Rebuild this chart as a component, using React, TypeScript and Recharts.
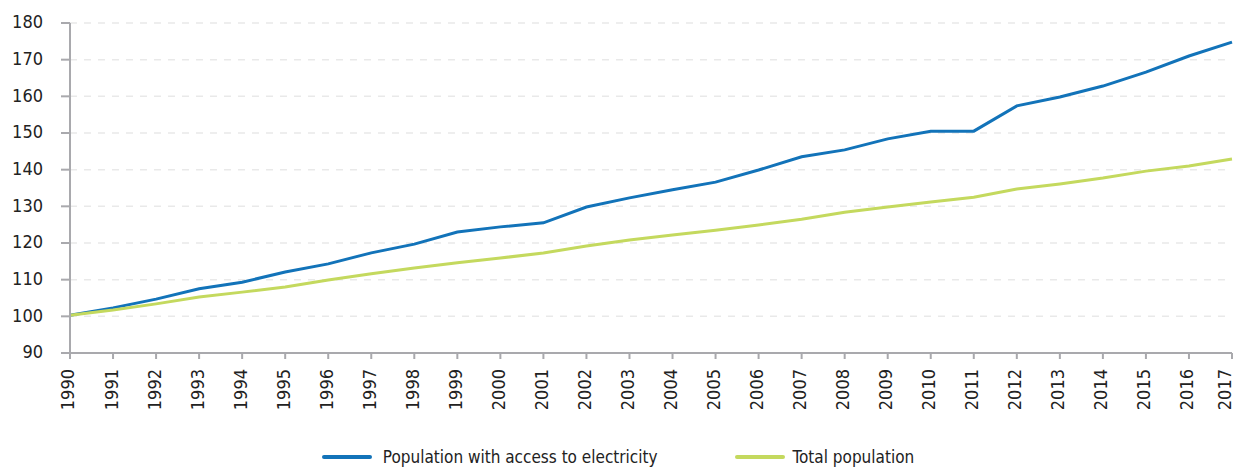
import React from 'react';
import { LineChart, Line, XAxis, YAxis, CartesianGrid, Legend } from 'recharts';

const years = [
    '1990', '1991', '1992', '1993', '1994', '1995', '1996', '1997', '1998', '1999',
    '2000', '2001', '2002', '2003', '2004', '2005', '2006', '2007', '2008', '2009',
    '2010', '2011', '2012', '2013', '2014', '2015', '2016', '2017',
];

const withElectricity = [
    100.3, 102.3, 104.7, 107.5, 109.3, 112.1, 114.3, 117.3, 119.7, 123.0,
    124.4, 125.5, 129.8, 132.3, 134.5, 136.6, 139.9, 143.5, 145.4, 148.4,
    150.5, 150.5, 157.4, 159.8, 162.8, 166.6, 171.0, 174.8,
];

const totalPopulation = [
    100.3, 101.7, 103.4, 105.3, 106.6, 108.0, 109.9, 111.6, 113.2, 114.6,
    115.9, 117.3, 119.2, 120.8, 122.2, 123.5, 124.9, 126.5, 128.4, 129.8,
    131.2, 132.5, 134.7, 136.1, 137.7, 139.6, 141.0, 142.9,
];

const yTicks = [90, 100, 110, 120, 130, 140, 150, 160, 170, 180];

const data = years.map((year, i) => ({
    year,
    electricity: withElectricity[i],
    total: totalPopulation[i],
}));

const FONT = "'DejaVu Sans Condensed', 'DejaVu Sans', sans-serif";
const BLUE = '#1273b9';
const GREEN = '#c4d95e';
const AXIS = '#a9a9ad';

// rotated year labels, reading bottom to top
const YearTick = (props: any) => {
    const { x, y, payload } = props;
    const tx = Math.min(x - 2, 1225); // keep the last label inside the page
    const ty = y + 10;
    return (
        <text
            x={tx}
            y={ty}
            dy='0.36em'
            textAnchor='end'
            transform={`rotate(-90 ${tx} ${ty})`}
            fill='#222'
            fontSize={18}
            fontFamily={FONT}
        >
            {payload.value}
        </text>
    );
};

const renderLegend = (props: any) => {
    const items = props.payload || [];
    return (
        <div
            style={{
                display: 'flex',
                justifyContent: 'center',
                marginTop: 6,
                paddingLeft: 4,
                lineHeight: '20px',
                fontFamily: FONT,
                fontSize: 17,
                color: '#222',
            }}
        >
            {items.map((item: any, i: number) => (
                <div key={i} style={{ display: 'flex', alignItems: 'center', marginLeft: i === 0 ? 0 : 77 }}>
                    <span
                        style={{
                            display: 'inline-block',
                            width: 50,
                            height: 4,
                            borderRadius: 2,
                            background: item.color,
                            marginRight: i === 0 ? 11 : 8,
                        }}
                    />
                    <span>{item.value}</span>
                </div>
            ))}
        </div>
    );
};

const App = (): React.ReactElement => {
    return (
        <div style={{ position: 'absolute', left: 0, top: 0, background: '#fff' }}>
            <LineChart
                width={1235}
                height={467}
                data={data}
                margin={{ top: 23, right: 3, left: 0, bottom: 0 }}
            >
                <CartesianGrid vertical={false} stroke='#e9e9e9' strokeWidth={1.5} strokeDasharray='7 7' />
                <XAxis
                    dataKey='year'
                    interval={0}
                    height={88}
                    stroke={AXIS}
                    strokeWidth={2}
                    tickSize={6}
                    tickMargin={0}
                    tick={<YearTick />}
                />
                <YAxis
                    domain={[90, 180]}
                    ticks={yTicks}
                    width={70}
                    stroke={AXIS}
                    strokeWidth={2}
                    tickSize={9}
                    tickMargin={18}
                    tick={{ fill: '#222', fontSize: 18, fontFamily: FONT, dy: -1 }}
                />
                <Legend verticalAlign='bottom' height={26} content={renderLegend} />
                <Line
                    type='linear'
                    dataKey='electricity'
                    name='Population with access to electricity'
                    stroke={BLUE}
                    strokeWidth={3}
                    dot={false}
                    isAnimationActive={false}
                />
                <Line
                    type='linear'
                    dataKey='total'
                    name='Total population'
                    stroke={GREEN}
                    strokeWidth={3}
                    dot={false}
                    isAnimationActive={false}
                />
            </LineChart>
        </div>
    );
};

export default App;
